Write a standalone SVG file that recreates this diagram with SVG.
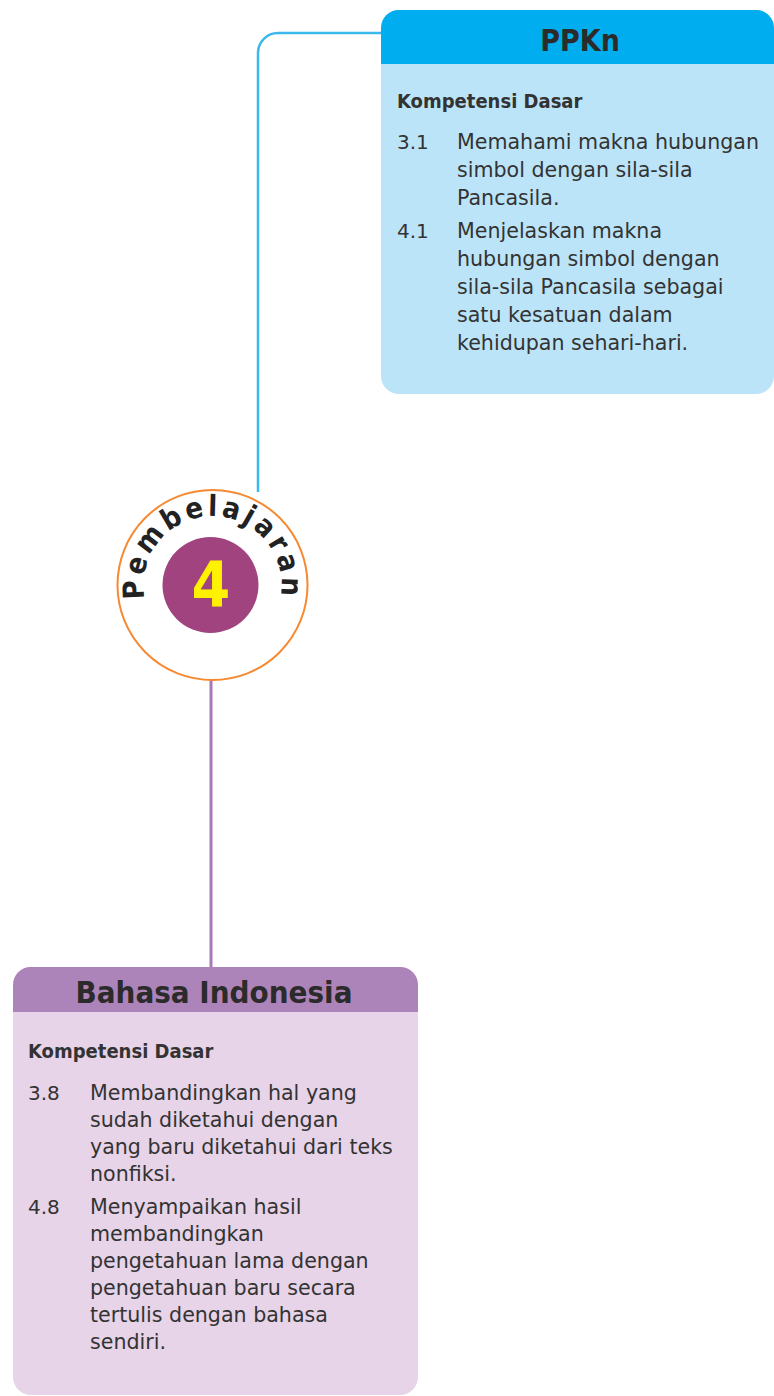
<svg xmlns="http://www.w3.org/2000/svg" width="774" height="1396" viewBox="0 0 774 1396">
<defs>
<style>
.hdr{font-family:"DejaVu Sans Condensed","DejaVu Sans",sans-serif;font-weight:bold;font-size:30px;fill:#2b2b2b;text-anchor:middle}
.kd{font-family:"DejaVu Sans Condensed","DejaVu Sans",sans-serif;font-weight:bold;font-size:20px;fill:#333}
.t{font-family:"DejaVu Sans",sans-serif;font-size:20.6px;fill:#333}
.num{font-family:"DejaVu Sans",sans-serif;font-size:20px;fill:#333}
</style>
<path id="arc" d="M 212.5 654 A 69 69 0 1 1 212.5 516 A 69 69 0 1 1 212.5 654"/>
</defs>
<rect width="774" height="1396" fill="#ffffff"/>
<g id="connectors" fill="none">
<path d="M 258 492 V 53 A 20 20 0 0 1 278 33 H 382" stroke="#3BB8EC" stroke-width="2.5"/>
<path d="M 211 680 V 968" stroke="#A57BB5" stroke-width="3"/>
</g>
<g id="ppkn">
<rect x="381" y="10" width="393" height="384" rx="18" fill="#BCE4F8"/>
<path d="M381,64 V28 A18,18 0 0 1 399,10 H756 A18,18 0 0 1 774,28 V64 Z" fill="#00AEEF"/>
<text class="hdr" x="580" y="51">PPKn</text>
<text class="kd" x="397" y="108">Kompetensi Dasar</text>
<text class="num" x="397" y="149">3.1</text>
<text class="t" x="457" y="149">Memahami makna hubungan</text>
<text class="t" x="457" y="177">simbol dengan sila-sila</text>
<text class="t" x="457" y="205">Pancasila.</text>
<text class="num" x="397" y="238">4.1</text>
<text class="t" x="457" y="238">Menjelaskan makna</text>
<text class="t" x="457" y="266">hubungan simbol dengan</text>
<text class="t" x="457" y="294">sila-sila Pancasila sebagai</text>
<text class="t" x="457" y="322">satu kesatuan dalam</text>
<text class="t" x="457" y="350">kehidupan sehari-hari.</text>
</g>
<g id="pembelajaran">
<circle cx="212.5" cy="585" r="95" fill="#ffffff" stroke="#F58A33" stroke-width="2"/>
<circle cx="210.5" cy="585" r="48" fill="#A0437F"/>
<text x="211" y="606" font-family="DejaVu Sans Condensed, DejaVu Sans, sans-serif" font-weight="bold" font-size="62" fill="#FFF200" text-anchor="middle">4</text>
<text font-family="DejaVu Sans Condensed, DejaVu Sans, sans-serif" font-weight="bold" font-size="29" fill="#222" letter-spacing="3.5" text-anchor="middle"><textPath href="#arc" startOffset="50%">Pembelajaran</textPath></text>
</g>
<g id="bahasa">
<rect x="13" y="967" width="405" height="428" rx="18" fill="#E7D4E8"/>
<path d="M13,1012 V985 A18,18 0 0 1 31,967 H400 A18,18 0 0 1 418,985 V1012 Z" fill="#AD84BA"/>
<text class="hdr" x="214" y="1003" style="font-size:31px">Bahasa Indonesia</text>
<text class="kd" x="28" y="1058">Kompetensi Dasar</text>
<text class="num" x="28" y="1100">3.8</text>
<text class="t" x="90" y="1100">Membandingkan hal yang</text>
<text class="t" x="90" y="1127">sudah diketahui dengan</text>
<text class="t" x="90" y="1154">yang baru diketahui dari teks</text>
<text class="t" x="90" y="1181">nonfiksi.</text>
<text class="num" x="28" y="1214">4.8</text>
<text class="t" x="90" y="1214">Menyampaikan hasil</text>
<text class="t" x="90" y="1241">membandingkan</text>
<text class="t" x="90" y="1268">pengetahuan lama dengan</text>
<text class="t" x="90" y="1295">pengetahuan baru secara</text>
<text class="t" x="90" y="1322">tertulis dengan bahasa</text>
<text class="t" x="90" y="1349">sendiri.</text>
</g>
</svg>
